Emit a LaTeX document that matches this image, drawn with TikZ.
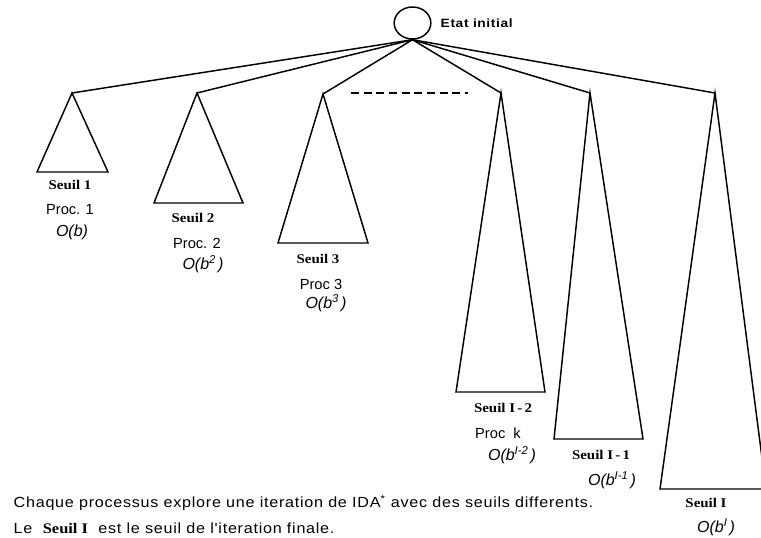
\documentclass[tikz,border=0pt]{standalone}
\usepackage{fontspec}
\usetikzlibrary{shapes.geometric}
\setmainfont{Liberation Sans}
\newfontfamily\seuilfont[FakeStretch=1.12]{Liberation Serif}
\newfontfamily\capfont[FakeStretch=1.1,LetterSpace=5]{Liberation Sans}
\newfontfamily\etatfont[FakeStretch=1.15,LetterSpace=5]{Liberation Sans}
\newcommand\mysup[1]{\raisebox{0.75ex}{\fontsize{8.5}{9}\selectfont #1}}
\begin{document}
\begin{tikzpicture}[x=0.75pt,y=-0.75pt,line width=1.1pt,
  seuil/.style={font=\seuilfont\bfseries\fontsize{10}{12}\selectfont, inner sep=0pt},
  proc/.style={font=\fontsize{11}{13}\selectfont, inner sep=0pt},
  cplx/.style={font=\itshape\fontsize{12}{14}\selectfont, inner sep=0pt},
  caption/.style={font=\capfont\fontsize{11}{13}\selectfont, anchor=base west, inner sep=0pt},
  tri/.style={line join=miter}]
\useasboundingbox (0,0) rectangle (761,538);
\clip (0,0) rectangle (761,538);
% root
\node[draw, ellipse, minimum width=27.5pt, minimum height=24pt, inner sep=0pt] (root) at (412.5,23) {};
\node[anchor=west, font=\etatfont\bfseries\fontsize{9}{11}\selectfont, inner sep=0pt] (etat) at (440,23) {Etat initial};
% apexes and bases
\coordinate (a1) at (72,93);  \coordinate (l1) at (37,172);  \coordinate (r1) at (108,172);
\coordinate (a2) at (197,93); \coordinate (l2) at (154,203); \coordinate (r2) at (243,203);
\coordinate (a3) at (323,94); \coordinate (l3) at (278,243); \coordinate (r3) at (368,243);
\coordinate (a4) at (501,93); \coordinate (l4) at (456,392); \coordinate (r4) at (545,392);
\coordinate (a5) at (590,93); \coordinate (l5) at (554,439); \coordinate (r5) at (643,439);
\coordinate (a6) at (715,93); \coordinate (l6) at (660,489); \coordinate (r6) at (766,489);
% triangles
\foreach \i in {1,...,6}{\draw[tri] (a\i) -- (l\i) -- (r\i) -- cycle;}
% connectors
\foreach \i in {1,...,6}{\draw (root.south) -- (a\i);}
% dashed ellipsis
\coordinate (d1) at (351,93); \coordinate (d2) at (468,93);
\draw[dash pattern=on 6pt off 3.5pt] (d1) -- (d2);
% labels
\node[seuil] (s1) at (70,185) {Seuil 1};
\node[proc]  (p1) at (70,210) {Proc. 1};
\node[cplx]  (c1) at (72,232) {O(b)};
\node[seuil] (s2) at (193,218) {Seuil 2};
\node[proc]  (p2) at (197,243) {Proc. 2};
\node[cplx]  (c2) at (203,264) {O(b\mysup{2}\,)};
\node[seuil] (s3) at (318,259) {Seuil 3};
\node[proc]  (p3) at (321,284) {Proc 3};
\node[cplx]  (c3) at (326,303) {O(b\mysup{3}\,)};
\node[seuil] (s4) at (503,408) {Seuil I\,-\,2};
\node[proc]  (p4) at (498,433) {Proc\ \ k};
\node[cplx]  (c4) at (512,455) {O(b\mysup{I-2}\,)};
\node[seuil] (s5) at (601,455) {Seuil I\,-\,1};
\node[cplx]  (c5) at (612,480) {O(b\mysup{I-1}\,)};
\node[seuil] (s6) at (706,503) {Seuil I};
\node[cplx]  (c6) at (716,527) {O(b\mysup{I}\,)};
% caption
\node[caption] (cap1) at (13,508) {Chaque processus explore une iteration de IDA\textsuperscript{*} avec des seuils differents.};
\node[caption] (cap2) at (13,533) {Le \ {\seuilfont\bfseries Seuil I} \ est le seuil de l'iteration finale.};
\end{tikzpicture}
\end{document}
